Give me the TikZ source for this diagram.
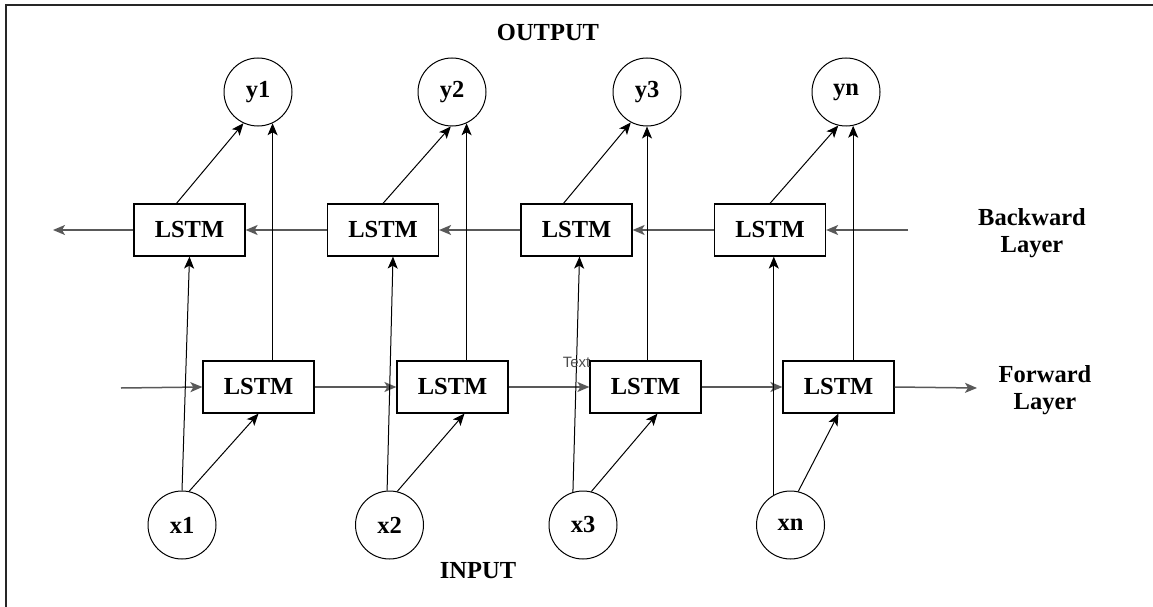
\documentclass[tikz,border=0pt]{standalone}
\usepackage{fontspec}
\setmainfont{Liberation Serif}
\newfontfamily\notefont{Liberation Sans}
\usetikzlibrary{arrows.meta, positioning, calc}

\begin{document}
\begin{tikzpicture}[x=1pt, y=-1pt,
    every node/.style={font=\fontsize{24.5}{27}\selectfont\bfseries},
    cell/.style={draw, fill=white, line width=1.2pt, minimum width=111pt, minimum height=52pt, inner sep=0pt},
    unit/.style={draw, circle, fill=white, line width=1pt, minimum size=68pt, inner sep=0pt},
    link/.style={line width=1pt, -{Stealth[length=12pt, width=10pt, inset=3pt]}},
    flow/.style={link, draw=black!65, line width=1.5pt}]
  \useasboundingbox (0,0) rectangle (1153,607);
  \draw[line width=2pt, black!85] (6,607) -- (6,5) -- (1153,5);

  % outputs
  \node[unit] (y1) at (258,92) {y1};
  \node[unit] (y2) at (452,92) {y2};
  \node[unit] (y3) at (647,92) {y3};
  \node[unit] (yn) at (846,92) {yn};

  % backward layer
  \node[cell] (b1) at (189.5,230) {LSTM};
  \node[cell] (b2) at (383,230) {LSTM};
  \node[cell] (b3) at (576.5,230) {LSTM};
  \node[cell] (b4) at (770,230) {LSTM};

  % forward layer
  \node[cell] (f1) at (258.5,387) {LSTM};
  \node[cell] (f2) at (452.5,387) {LSTM};
  \node[cell] (f3) at (645.5,387) {LSTM};
  \node[cell] (f4) at (838.5,387) {LSTM};

  % inputs
  \node[unit] (x1) at (182,525) {x1};
  \node[unit] (x2) at (389.5,525) {x2};
  \node[unit] (x3) at (583,525) {x3};
  \node[unit] (xn) at (790.5,525) {xn};

  \node (output) at (548,33) {OUTPUT};
  \node (input) at (478,571) {INPUT};
  \node[align=center] (bwd) at (1032,233) {Backward\\Layer};
  \node[align=center] (fwd) at (1045,390) {Forward\\Layer};

  \coordinate (bin) at (908,230);
  \coordinate (bout) at (53,230);
  \coordinate (fin) at (121,388);
  \coordinate (fout) at (977,388);

  % hidden state passed right to left
  \draw[flow] (bin) -- (b4.east);
  \draw[flow] (b4.west) -- (b3.east);
  \draw[flow] (b3.west) -- (b2.east);
  \draw[flow] (b2.west) -- (b1.east);
  \draw[flow] (b1.west) -- (bout);

  % hidden state passed left to right
  \draw[flow] (fin) -- (f1.west);
  \draw[flow] (f1.east) -- (f2.west);
  \draw[flow] (f2.east) -- (f3.west);
  \draw[flow] (f3.east) -- (f4.west);
  \draw[flow] (f4.east) -- (fout);

  % forward cells to outputs
  \draw[link] (f1.north -| y1.-65) -- (y1.-65);
  \draw[link] (f2.north -| y2.-65) -- (y2.-65);
  \draw[link] (f3.north -| y3.south) -- (y3.south);
  \draw[link] (f4.north -| yn.-78) -- (yn.-78);

  % backward cells to outputs
  \draw[link] ($(b1.north)+(-13,0)$) -- (y1.-115);
  \draw[link] (b2.north) -- (y2.-92);
  \draw[link] ($(b3.north)+(-13,0)$) -- (y3.-118);
  \draw[link] (b4.north) -- (yn.-103);

  % inputs to forward cells
  \draw[link] (x1.78) -- (f1.south);
  \draw[link] (x2.77) -- ($(f2.south)+(12,0)$);
  \draw[link] (x3.76) -- ($(f3.south)+(12,0)$);
  \draw[link] (xn.77) -- (f4.south);

  % inputs to backward cells
  \draw[link] (x1.north) -- (b1.south);
  \draw[link] (x2.94) -- ($(b2.south)+(10,0)$);
  \draw[link] (x3.107) -- ($(b3.south)+(3,0)$);
  \draw[link] (xn.119) -- (xn.119 |- b4.south);

  \node[font=\notefont\fontsize{15}{17}\selectfont, text=black!70] (tag) at (576.5,362) {Text};
\end{tikzpicture}
\end{document}
